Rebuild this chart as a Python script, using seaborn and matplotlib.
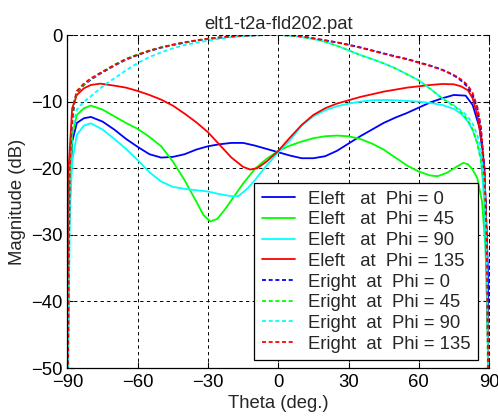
import numpy as np
import pandas as pd
import seaborn as sns

from matplotlib import pyplot as plt

plot_name = "elt1-t2a-fld202.pat"

# Eleft (solid) curves
theta_eleft_0 = [-90, -89.5, -88, -86, -83, -80, -75, -70, -65, -60, -55, -50, -45, -40, -35, -30, -25, -20, -15,
                 -10, -5, 0, 5, 10, 15, 20, 25, 30, 35, 40, 45, 50, 55, 60, 65, 70, 75, 80, 83, 86, 88, 89.5, 90]
mag_eleft_0 = [-60, -30, -16, -13.2, -12.5, -12.3, -13.0, -14.2, -15.6, -16.8, -17.9, -18.4, -18.3, -17.9, -17.2,
               -16.7, -16.4, -16.2, -16.2, -16.6, -17.1, -17.6, -18.1, -18.5, -18.5, -18.2, -17.4, -16.3, -15.2,
               -14.2, -13.2, -12.4, -11.7, -10.9, -10.1, -9.5, -9.0, -9.1, -10.5, -14, -20, -35, -60]

theta_eleft_45 = [-90, -89.5, -88, -86, -83, -80, -75, -70, -65, -60, -55, -50, -45, -40, -35, -32, -29, -26, -23,
                  -20, -15, -10, -5, 0, 5, 10, 15, 20, 25, 30, 35, 40, 45, 50, 55, 60, 65, 68, 72, 76, 79, 81, 83,
                  85, 87, 88.5, 89.5, 90]
mag_eleft_45 = [-60, -30, -15, -12, -11, -10.6, -11.2, -12.2, -13.2, -14.1, -15.3, -16.7, -19.0, -21.8, -25.0,
                -27.0, -28.0, -27.6, -26.3, -24.8, -22.3, -20.1, -18.6, -17.4, -16.6, -16.0, -15.5, -15.2, -15.1,
                -15.2, -15.6, -16.3, -17.2, -18.4, -19.6, -20.5, -21.1, -21.2, -20.7, -19.8, -19.2, -19.4, -20.2,
                -21.5, -25, -32, -45, -60]

theta_eleft_90 = [-90, -89.5, -89, -88, -86, -83, -80, -75, -70, -65, -60, -55, -50, -45, -40, -35, -30, -25, -20,
                  -17, -13, -10, -5, 0, 5, 10, 15, 20, 25, 30, 35, 40, 45, 50, 55, 60, 65, 70, 75, 78, 81, 83, 85,
                  86.5, 88, 89.5, 90]
mag_eleft_90 = [-70, -45, -27, -19, -15, -13.6, -13.25, -14.2, -15.6, -17.1, -18.8, -20.6, -22.0, -22.8, -23.1,
                -23.3, -23.5, -23.9, -24.2, -24.2, -23.0, -21.8, -19.6, -17.6, -15.8, -13.6, -12.2, -11.3, -10.7,
                -10.3, -10.0, -9.8, -9.75, -9.8, -9.9, -10.0, -10.2, -10.5, -11.1, -11.8, -13.0, -14.3, -16.2,
                -18.5, -25, -45, -70]

theta_eleft_135 = [-90, -89.5, -88, -86, -83, -80, -76, -70, -65, -60, -55, -50, -45, -40, -35, -30, -25, -20, -15,
                   -12, -9, -5, 0, 5, 10, 15, 20, 25, 30, 35, 40, 45, 50, 55, 60, 65, 70, 75, 78, 81, 83, 85, 87,
                   88.5, 89.5, 90]
mag_eleft_135 = [-36.5, -20, -11, -9, -8.0, -7.5, -7.3, -7.6, -7.9, -8.4, -9.0, -9.7, -10.6, -11.8, -13.1, -14.6,
                 -16.5, -18.4, -19.8, -20.2, -20.0, -19.0, -17.4, -15.4, -13.5, -12.0, -11.0, -10.3, -9.8, -9.3,
                 -8.9, -8.5, -8.2, -7.9, -7.7, -7.5, -7.35, -7.4, -7.7, -8.3, -9.5, -12, -16.5, -25, -45, -60]

# Eright (dashed) curves
theta_eright = [-90, -89.5, -89, -88, -87, -86, -83, -80, -76, -73, -70, -65, -60, -55, -50, -45, -40, -35, -30,
                -25, -20, -15, -10, -5, 0, 5, 10, 15, 20, 25, 30, 35, 40, 45, 50, 55, 60, 65, 70, 73, 76, 79, 81,
                83, 85, 86.5, 88, 89, 89.6, 90]
mag_eright_0 = [-60, -35, -20, -13, -10, -8.6, -7.5, -6.7, -5.8, -5.2, -4.6, -3.7, -3.0, -2.4, -1.9, -1.5, -1.15,
                -0.85, -0.6, -0.4, -0.25, -0.12, -0.05, 0, 0, -0.05, -0.2, -0.5, -0.8, -1.1, -1.45, -1.85, -2.3,
                -2.75, -3.2, -3.6, -4.1, -4.6, -5.2, -5.7, -6.3, -7.1, -7.9, -9.0, -11, -14, -20, -30, -50, -70]
mag_eright_45 = [-60, -35, -20, -13, -10, -8.5, -7.4, -6.6, -5.7, -5.1, -4.5, -3.6, -2.9, -2.3, -1.85, -1.45,
                 -1.1, -0.8, -0.55, -0.35, -0.2, -0.1, -0.03, 0, 0, -0.1, -0.3, -0.6, -1.0, -1.6, -2.3, -3.0, -3.6,
                 -4.25, -5.0, -5.9, -6.8, -8.1, -9.5, -10.2, -10.9, -11.9, -12.8, -14.2, -16.3, -18.8, -23, -33, -55,
                 -70]
mag_eright_90 = [-60, -35, -22, -15, -12.5, -11.2, -10.0, -9.2, -8.0, -7.2, -6.5, -5.3, -4.2, -3.3, -2.6, -2.0,
                 -1.5, -1.15, -0.85, -0.55, -0.3, -0.15, -0.05, 0, 0, -0.1, -0.3, -0.6, -1.0, -1.6, -2.3, -3.0,
                 -3.6, -4.25, -5.0, -5.9, -6.8, -8.1, -9.5, -10.1, -10.8, -11.6, -12.3, -13.3, -15.0, -17.0, -22,
                 -32, -50, -70]
mag_eright_135 = [-60, -35, -20, -12.8, -9.8, -8.4, -7.3, -6.5, -5.7, -5.1, -4.5, -3.6, -2.95, -2.35, -1.85, -1.45,
                  -1.1, -0.8, -0.55, -0.35, -0.2, -0.1, -0.03, 0, 0, -0.05, -0.2, -0.5, -0.8, -1.1, -1.5, -1.9,
                  -2.35, -2.8, -3.25, -3.65, -4.15, -4.65, -5.25, -5.7, -6.2, -6.9, -7.6, -8.7, -10.8, -13.8, -20,
                  -30, -50, -70]

labels = ["Eleft   at  Phi = 0", "Eleft   at  Phi = 45", "Eleft   at  Phi = 90", "Eleft   at  Phi = 135",
          "Eright  at  Phi = 0", "Eright  at  Phi = 45", "Eright  at  Phi = 90", "Eright  at  Phi = 135"]
colors = ["#0000ff", "#00ff00", "#00ffff", "#ff0000"] * 2

curves = [(theta_eleft_0, mag_eleft_0), (theta_eleft_45, mag_eleft_45), (theta_eleft_90, mag_eleft_90),
          (theta_eleft_135, mag_eleft_135), (theta_eright, mag_eright_0), (theta_eright, mag_eright_45),
          (theta_eright, mag_eright_90), (theta_eright, mag_eright_135)]

frames = []
for label, (t, m) in zip(labels, curves):
    frames.append(pd.DataFrame({"theta": t, "mag": m, "series": label}))
df = pd.concat(frames, ignore_index=True)

sns.set_style("ticks")
plt.rcParams['font.family'] = ['Liberation Sans', 'DejaVu Sans']
plt.rcParams['font.size'] = 13.3

fig = plt.figure(figsize=(4.98, 4.17), dpi=100)
ax = fig.add_axes([0.1355, 0.1175, 0.8465, 0.7985])

dashes = {lab: "" if lab.startswith("Eleft") else (2.2, 1.5) for lab in labels}
sns.lineplot(data=df, x="theta", y="mag", hue="series", style="series", hue_order=labels, style_order=labels,
             palette=dict(zip(labels, colors)), dashes=dashes, sort=False, estimator=None, linewidth=1.3, ax=ax)

ax.set_xlim(-90, 90)
ax.set_ylim(-50, 0)
ax.set_xticks(np.arange(-90, 91, 30))
ax.set_yticks(np.arange(-50, 1, 10))
ax.grid(True, color='k', linestyle=(0, (3.4, 3.4)), linewidth=0.7)
ax.tick_params(direction='in', length=4, width=0.8, top=True, right=True, labelsize=13.3, colors='k')
ax.tick_params(axis='x', pad=4.5)
ax.tick_params(axis='y', pad=3.5)
for side in ["left", "bottom"]:
    ax.spines[side].set_color('k')
    ax.spines[side].set_linewidth(0.9)
for side in ["top", "right"]:
    ax.spines[side].set_visible(True)
    ax.spines[side].set_color('k')
    ax.spines[side].set_linestyle((0, (3.4, 3.4)))
    ax.spines[side].set_linewidth(0.7)

ax.set_title(plot_name, fontsize=13.3, pad=4)
ax.set_xlabel("Theta (deg.)", fontsize=13.3, labelpad=3)
ax.set_ylabel("Magnitude (dB)", fontsize=13.3, labelpad=4)

leg = ax.legend(loc='lower right', bbox_to_anchor=(0.974, 0.024), borderaxespad=0, fontsize=13.3,
                frameon=True, fancybox=False, framealpha=1, edgecolor='k', labelspacing=0.2,
                handlelength=1.8, handletextpad=0.7, borderpad=0.4)
leg.get_frame().set_linewidth(0.9)

plt.savefig("out.png", dpi=100)
